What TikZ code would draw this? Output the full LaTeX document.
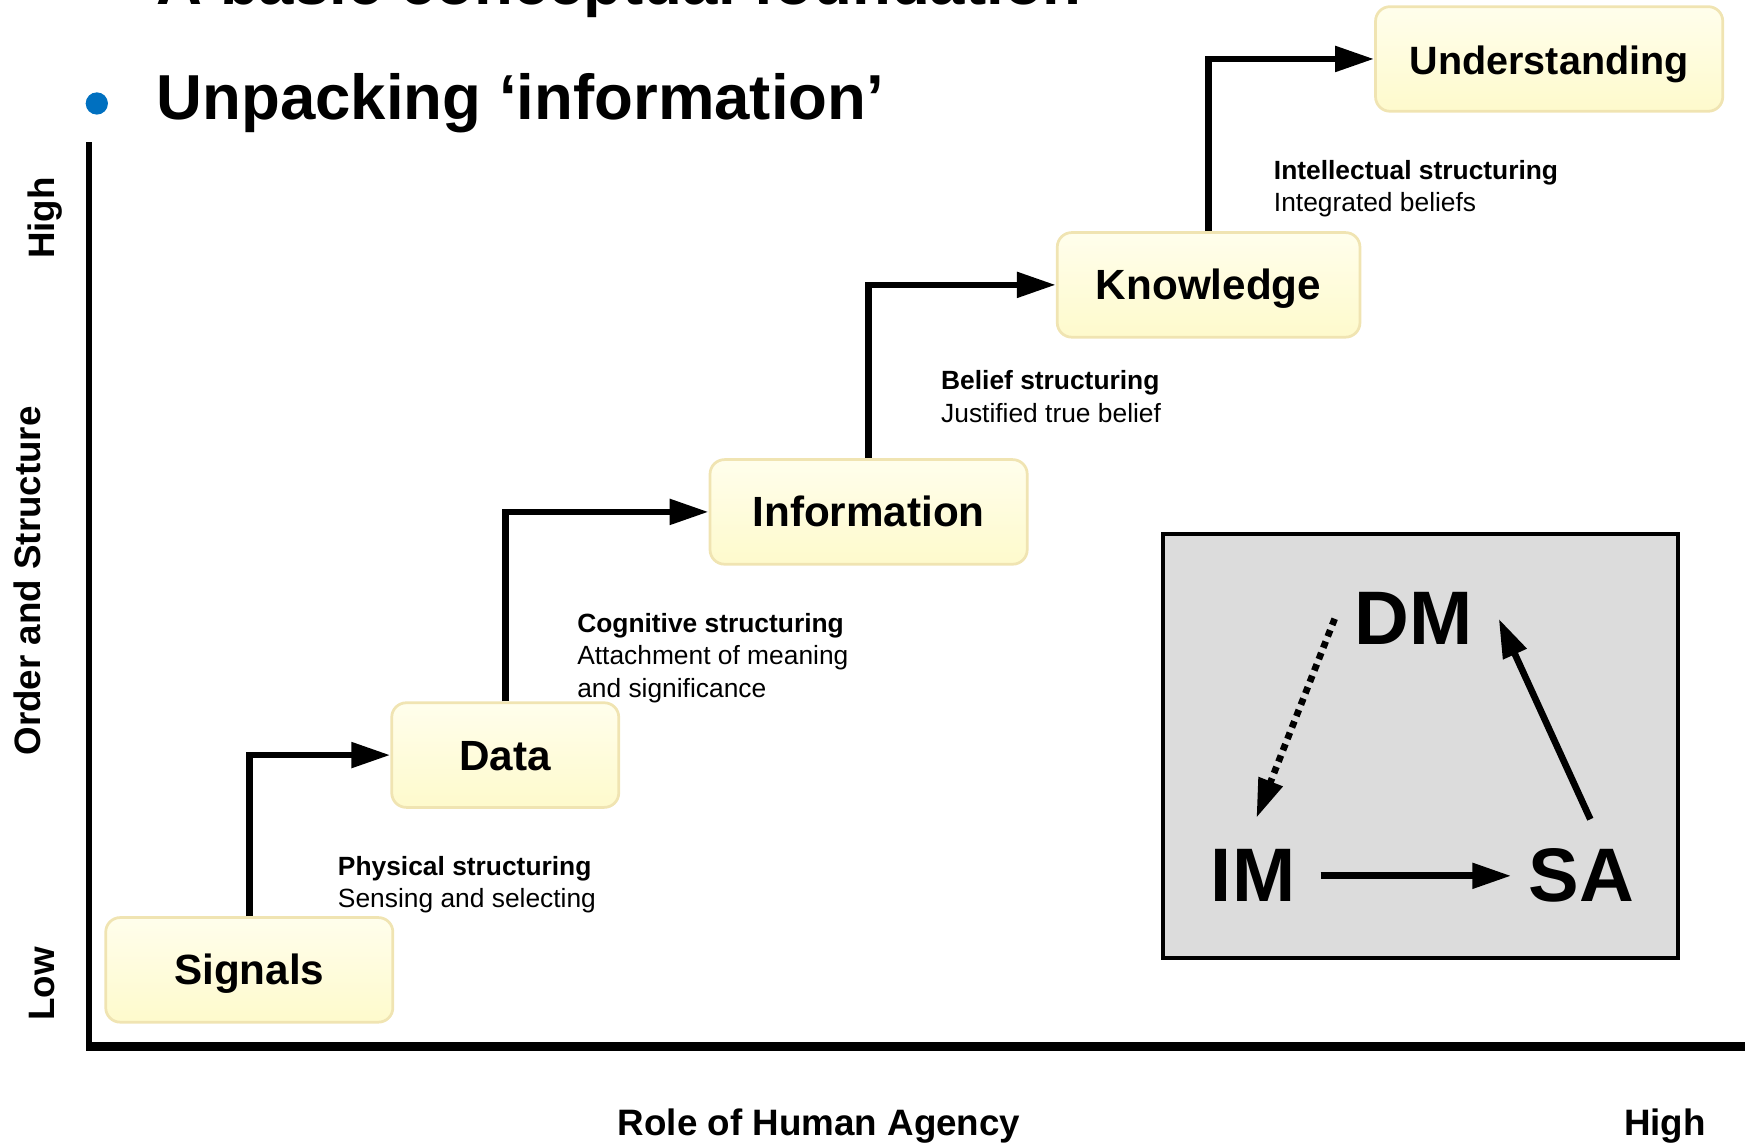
\documentclass[tikz,border=0pt]{standalone}
\usepackage{fontspec}
\setmainfont{Liberation Sans}
\usetikzlibrary{arrows.meta}

\definecolor{boxtop}{RGB}{255,254,236}
\definecolor{boxbottom}{RGB}{254,250,204}
\definecolor{boxline}{RGB}{240,228,178}
\definecolor{bulletblue}{RGB}{0,112,192}
\definecolor{insetgray}{RGB}{220,220,220}

\begin{document}
\begin{tikzpicture}[
        stage/.style={draw=boxline, line width=0.7pt, rounded corners=0.13cm,
            top color=boxtop, bottom color=boxbottom, minimum height=0.94cm,
            text height=10pt, text depth=2.3pt,
            font=\bfseries\fontsize{10.8}{12}\selectfont},
        flow/.style={line width=0.06cm, -{Triangle[length=0.35cm,width=0.22cm]}},
        note/.style={anchor=north west, inner sep=0pt, align=left,
            font=\fontsize{6.74}{8.25}\selectfont},
        axislabel/.style={inner sep=0pt, font=\bfseries\fontsize{9.4}{11}\selectfont},
        acro/.style={inner sep=0.15cm, font=\bfseries\fontsize{19.4}{22}\selectfont}
    ]
        \useasboundingbox (0,0) rectangle (15.68,10.28);

        % heading
        \node[anchor=base west, inner sep=0pt, font=\bfseries\fontsize{16.25}{19}\selectfont] (heading) at (1.40,10.24) {A basic conceptual foundation};
        \node[circle, fill=bulletblue, minimum size=0.2cm, inner sep=0pt] (bullet) at (0.87,9.35) {};
        \node[anchor=base west, inner sep=0pt, font=\bfseries\fontsize{16.25}{19}\selectfont] (subheading) at (1.40,9.21) {Unpacking ‘information’};

        % axes
        \draw[line width=0.055cm] (0.80,9.00) -- (0.80,0.84);
        \draw[line width=0.08cm] (0.78,0.88) -- (15.68,0.88);

        \node[axislabel, rotate=90, anchor=base] (yhigh) at (0.486,8.32) {High};
        \node[axislabel, rotate=90, anchor=base] (ytitle) at (0.36,5.06) {Order and Structure};
        \node[axislabel, rotate=90, anchor=base] (ylow) at (0.486,1.44) {Low};
        \node[axislabel, anchor=base] (xtitle) at (7.36,0.075) {Role of Human Agency};
        \node[axislabel, anchor=base] (xhigh) at (14.96,0.075) {High};

        % stages
        \node[stage, minimum width=2.58cm] (signals) at (2.24,1.565) {Signals};
        \node[stage, minimum width=2.04cm] (data) at (4.54,3.495) {Data};
        \node[stage, minimum width=2.85cm] (information) at (7.805,5.68) {Information};
        \node[stage, minimum width=2.72cm] (knowledge) at (10.86,7.72) {Knowledge};
        \node[stage, minimum width=3.12cm, font=\bfseries\fontsize{10.1}{12}\selectfont] (understanding) at (13.92,9.75) {Understanding};

        \draw[flow] (signals.north) |- (data.west);
        \draw[flow] (data.north) |- (information.west);
        \draw[flow] (information.north) |- (knowledge.west);
        \draw[flow] (knowledge.north) |- (understanding.west);

        \node[note] (physical) at (3.03,2.595) {\textbf{Physical structuring}\\Sensing and selecting};
        \node[note] (cognitive) at (5.18,4.775) {\textbf{Cognitive structuring}\\Attachment of meaning\\and significance};
        \node[note] (belief) at (8.45,6.955) {\textbf{Belief structuring}\\Justified true belief};
        \node[note] (intellectual) at (11.44,8.845) {\textbf{Intellectual structuring}\\Integrated beliefs};

        % inset
        \draw[line width=0.04cm, fill=insetgray] (10.45,5.48) rectangle (15.08,1.67);

        \node[acro] (dm) at (12.70,4.72) {DM};
        \node[acro] (im) at (11.26,2.41) {IM};
        \node[acro] (sa) at (14.21,2.41) {SA};

        \draw[flow, shorten <=0.07cm] (im.east) -- (sa.west);
        \draw[flow] ([xshift=0.08cm,yshift=0.11cm]sa.north) -- ([xshift=0.08cm]dm.east);
        \draw[flow, dash pattern=on 0.06cm off 0.05cm] ([xshift=-0.02cm]dm.west) -- ([xshift=0.03cm,yshift=0.13cm]im.north);

    \end{tikzpicture}
\end{document}
